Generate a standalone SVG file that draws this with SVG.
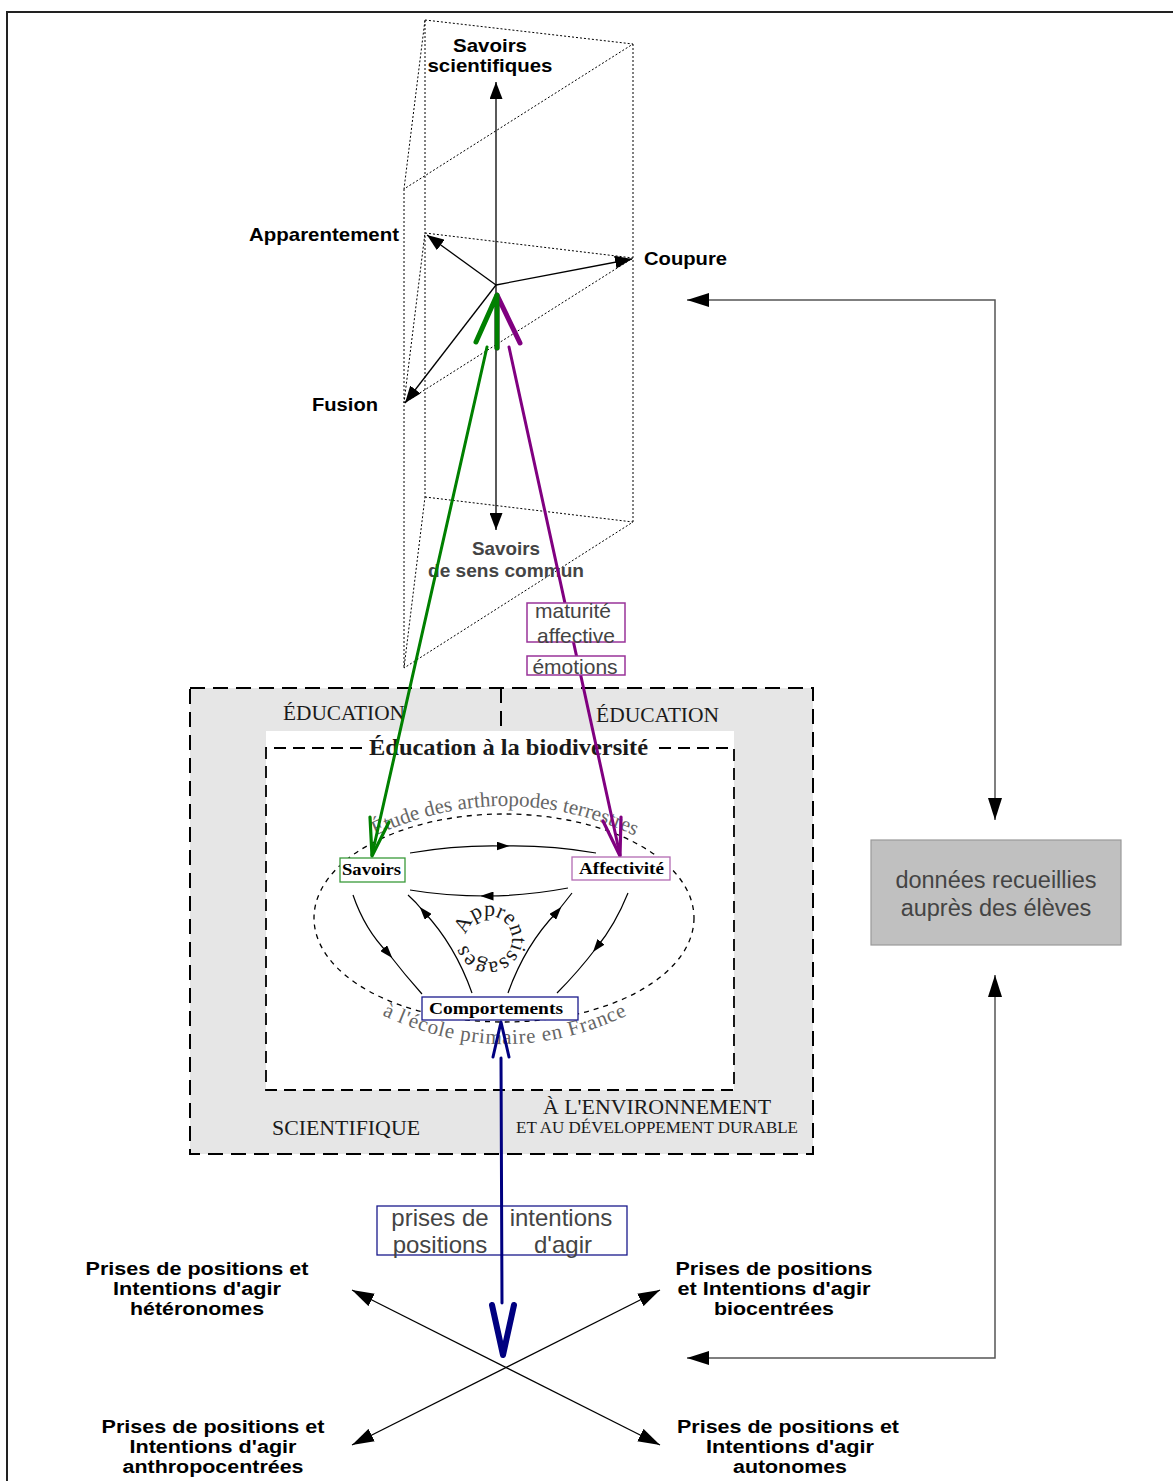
<svg xmlns="http://www.w3.org/2000/svg" width="1173" height="1481" viewBox="0 0 1173 1481">
  <style>
    .dot { fill: none; stroke: #000; stroke-width: 1; stroke-dasharray: 2 2; }
    .ax { fill: none; stroke: #000; stroke-width: 1.3; }
    .lnk { fill: none; stroke: #555; stroke-width: 1.5; }
    .lbl { font-family: "Liberation Sans", Arial, sans-serif; font-weight: bold; font-size: 19px; fill: #000; }
    .lblg { fill: #444; }
    .pos { font-family: "Liberation Sans", Arial, sans-serif; font-weight: bold; font-size: 18px; fill: #000; }
    .box { font-family: "Liberation Sans", Arial, sans-serif; fill: #444; }
    .ser { font-family: "Liberation Serif", "Times New Roman", serif; fill: #1a1a1a; }
    .curv { font-family: "Liberation Serif", "Times New Roman", serif; font-size: 21px; fill: #666; }
    .node { font-family: "Liberation Serif", "Times New Roman", serif; font-weight: bold; font-size: 17px; fill: #000; }
    .cyc { fill: none; stroke: #000; stroke-width: 1.2; }
    .dash { fill: none; stroke: #000; stroke-width: 2; stroke-dasharray: 15 8; }
  </style>
  <defs>
    <marker id="tipS" viewBox="0 0 17 13" refX="17" refY="6.5" markerWidth="17" markerHeight="13" markerUnits="userSpaceOnUse" orient="auto-start-reverse">
      <path d="M0,0 L17,6.5 L0,13 z" fill="#000"/>
    </marker>
    <marker id="tipL" viewBox="0 0 22 14" refX="22" refY="7" markerWidth="22" markerHeight="14" markerUnits="userSpaceOnUse" orient="auto-start-reverse">
      <path d="M0,0 L22,7 L0,14 z" fill="#000"/>
    </marker>
    <marker id="tipM" viewBox="0 0 13 9" refX="6.5" refY="4.5" markerWidth="13" markerHeight="9" markerUnits="userSpaceOnUse" orient="auto">
      <path d="M0,0 L13,4.5 L0,9 z" fill="#000"/>
    </marker>
    <path id="arcTop" d="M366,840 Q505,772 644,840"/>
    <path id="arcBot" d="M376,1012 Q505,1076 634,1012"/>
    <path id="ring" d="M466.3,935 A23,23 0 1 1 511.7,943 A23,23 0 1 1 466.3,935"/>
  </defs>

  <!-- page frame -->
  <path d="M6,12 H1173 M7,12 V1481" fill="none" stroke="#222" stroke-width="2"/>

  <!-- prism of the three knowledge poles -->
  <g id="prism">
    <path class="dot" d="M425,20 L633,44 L404,189 Z"/>
    <path class="dot" d="M425,233 L633,258 L404,403 Z"/>
    <path class="dot" d="M425,497 L633,522 L404,668 Z"/>
    <path class="dot" d="M425,20 V497 M633,44 V522 M404,189 V668"/>
  </g>

  <g id="prism-axes">
    <line class="ax" x1="496" y1="285" x2="496" y2="82" marker-end="url(#tipS)"/>
    <line class="ax" x1="496" y1="285" x2="496" y2="530" marker-end="url(#tipS)"/>
    <line class="ax" x1="496" y1="285" x2="427" y2="235" marker-end="url(#tipS)"/>
    <line class="ax" x1="496" y1="285" x2="632" y2="259" marker-end="url(#tipS)"/>
    <line class="ax" x1="496" y1="285" x2="405" y2="403" marker-end="url(#tipS)"/>
  </g>

  <g id="pole-sci"><text class="lbl" text-anchor="middle"><tspan x="490" y="52" textLength="74" lengthAdjust="spacingAndGlyphs">Savoirs</tspan><tspan x="490" y="72" textLength="125" lengthAdjust="spacingAndGlyphs">scientifiques</tspan></text></g>
  <g id="pole-app"><text class="lbl" x="249" y="241" textLength="150" lengthAdjust="spacingAndGlyphs">Apparentement</text></g>
  <g id="pole-coup"><text class="lbl" x="644" y="265" textLength="83" lengthAdjust="spacingAndGlyphs">Coupure</text></g>
  <g id="pole-fus"><text class="lbl" x="312" y="411" textLength="66" lengthAdjust="spacingAndGlyphs">Fusion</text></g>
  <g id="pole-sens"><text class="lbl lblg" text-anchor="middle"><tspan x="506" y="555" textLength="68" lengthAdjust="spacingAndGlyphs">Savoirs</tspan><tspan x="506" y="577" textLength="156" lengthAdjust="spacingAndGlyphs">de sens commun</tspan></text></g>

  <!-- education fields -->
  <g id="fields">
    <rect x="190" y="688" width="623" height="466" fill="#e6e6e6"/>
    <rect class="dash" x="190" y="688" width="623" height="466"/>
    <line class="dash" x1="501" y1="688" x2="501" y2="730"/>
    <rect x="266" y="731" width="468" height="359" fill="#fff"/>
    <path d="M362,748 H266 V1090 H734 V748 H655" fill="none" stroke="#000" stroke-width="1.8" stroke-dasharray="12 7"/>
    <text class="ser" x="283" y="720" font-size="21" textLength="122" lengthAdjust="spacingAndGlyphs">ÉDUCATION</text>
    <text class="ser" x="596" y="722" font-size="21" textLength="123" lengthAdjust="spacingAndGlyphs">ÉDUCATION</text>
    <text class="ser" x="272" y="1135" font-size="21" textLength="148" lengthAdjust="spacingAndGlyphs">SCIENTIFIQUE</text>
    <text class="ser" x="543" y="1114" font-size="21" textLength="228" lengthAdjust="spacingAndGlyphs">À L'ENVIRONNEMENT</text>
    <text class="ser" x="516" y="1133" font-size="16.5" textLength="282" lengthAdjust="spacingAndGlyphs">ET AU DÉVELOPPEMENT DURABLE</text>
    <text class="ser" x="369" y="755" font-size="23" font-weight="bold" fill="#000" textLength="279" lengthAdjust="spacingAndGlyphs">Éducation à la biodiversité</text>
  </g>

  <!-- learning cycle -->
  <g id="cycle">
    <ellipse cx="504" cy="918" rx="190" ry="104" fill="none" stroke="#000" stroke-width="1.3" stroke-dasharray="5 5"/>
    <text class="curv"><textPath href="#arcTop" startOffset="50%" text-anchor="middle">Étude des arthropodes terrestres</textPath></text>
    <text class="curv" letter-spacing="0.8"><textPath href="#arcBot" startOffset="50%" text-anchor="middle">à l'école primaire en France</textPath></text>
    <text class="ser" font-size="22" fill="#000"><textPath href="#ring">Apprentissages</textPath></text>
    <path class="cyc" d="M410,853 Q456,845 503,846 Q550,845 596,853" marker-mid="url(#tipM)"/>
    <path class="cyc" d="M568,888 Q525,896 487,896 Q445,896 410,890" marker-mid="url(#tipM)"/>
    <path class="cyc" d="M353,895 Q365,930 388,953 Q405,975 422,994" marker-mid="url(#tipM)"/>
    <path class="cyc" d="M472,993 Q455,945 424,912 Q416,902 408,895" marker-mid="url(#tipM)"/>
    <path class="cyc" d="M508,993 Q525,945 557,912 Q565,902 572,893" marker-mid="url(#tipM)"/>
    <path class="cyc" d="M628,893 Q615,925 597,947 Q578,972 557,993" marker-mid="url(#tipM)"/>
  </g>

  <!-- links between the model and the collected data -->
  <g id="connectors">
    <path class="lnk" d="M687,300 H995 V820" marker-start="url(#tipL)" marker-end="url(#tipL)"/>
    <path class="lnk" d="M995,975 V1358 H687" marker-start="url(#tipL)" marker-end="url(#tipL)"/>
    <line x1="352" y1="1290" x2="660" y2="1445" stroke="#000" stroke-width="1.2" marker-start="url(#tipL)" marker-end="url(#tipL)"/>
    <line x1="660" y1="1290" x2="352" y2="1445" stroke="#000" stroke-width="1.2" marker-start="url(#tipL)" marker-end="url(#tipL)"/>

    <!-- affectivity -> prism -->
    <g stroke="#800080" fill="none" stroke-linecap="round" stroke-linejoin="round">
      <line x1="509" y1="347" x2="620" y2="855" stroke-width="3"/>
      <polyline points="603,821 620,856 621,817" stroke-width="3.2"/>
      <polyline points="520,343 497,295 497,348" stroke-width="5"/>
    </g>
    <!-- knowledge -> prism -->
    <g stroke="#008000" fill="none" stroke-linecap="round" stroke-linejoin="round">
      <line x1="487" y1="347" x2="372" y2="855" stroke-width="3"/>
      <polyline points="370,817 372,856 389,822" stroke-width="3.2"/>
      <polyline points="476,342 497,295 497,348" stroke-width="5"/>
    </g>
  </g>

  <g id="n-maturite">
    <rect x="527" y="603" width="98" height="39" fill="#fff" stroke="#993399" stroke-width="1.5"/>
    <text class="box" style="font-size:21px" text-anchor="middle"><tspan x="573" y="618">maturité</tspan><tspan x="576" y="643">affective</tspan></text>
  </g>
  <g id="n-emotions">
    <rect x="527" y="656" width="98" height="19" fill="#fff" stroke="#993399" stroke-width="1.5"/>
    <text class="box" style="font-size:21px" x="575" y="674" text-anchor="middle">émotions</text>
  </g>

  <g id="n-savoirs">
    <rect x="340" y="858" width="65" height="24" fill="#fff" stroke="#3a9a3a" stroke-width="1.3"/>
    <text class="node" x="342" y="875" textLength="59" lengthAdjust="spacingAndGlyphs">Savoirs</text>
  </g>
  <g id="n-affect">
    <rect x="572" y="857" width="98" height="23" fill="#fff" stroke="#b36bb3" stroke-width="1.3"/>
    <text class="node" x="579" y="874" textLength="85" lengthAdjust="spacingAndGlyphs">Affectivité</text>
  </g>
  <g id="n-comport">
    <rect x="422" y="997" width="156" height="23" fill="#fff" stroke="#1a1a8c" stroke-width="1.3"/>
    <text class="node" x="429" y="1014" textLength="134" lengthAdjust="spacingAndGlyphs">Comportements</text>
  </g>

  <g id="n-prises">
    <rect x="377" y="1206" width="250" height="49" fill="#fff" stroke="#1a1a8c" stroke-width="1.3"/>
    <text class="box" style="font-size:24px" text-anchor="middle"><tspan x="440" y="1226">prises de</tspan><tspan x="440" y="1253">positions</tspan></text>
    <text class="box" style="font-size:24px" text-anchor="middle"><tspan x="561" y="1226">intentions</tspan><tspan x="563" y="1253">d'agir</tspan></text>
  </g>

  <!-- behaviour -> positions -->
  <g id="behaviour-link" stroke="#000080" fill="none" stroke-linecap="round" stroke-linejoin="round">
    <line x1="501" y1="1058" x2="502" y2="1303" stroke-width="3"/>
    <polyline points="493,1057 501,1022 509,1057" stroke-width="3"/>
    <polyline points="492,1305 503,1355 514,1305" stroke-width="6"/>
  </g>

  <g id="n-donnees">
    <rect x="871" y="840" width="250" height="105" fill="#c0c0c0" stroke="#999" stroke-width="1.2"/>
    <text class="box" style="font-size:23.5px" text-anchor="middle"><tspan x="996" y="888">données recueillies</tspan><tspan x="996" y="916">auprès des élèves</tspan></text>
  </g>

  <g id="n-hetero"><text class="pos" text-anchor="middle"><tspan x="197" y="1275" textLength="223" lengthAdjust="spacingAndGlyphs">Prises de positions et</tspan><tspan x="197" y="1295" textLength="168" lengthAdjust="spacingAndGlyphs">Intentions d'agir</tspan><tspan x="197" y="1315" textLength="134" lengthAdjust="spacingAndGlyphs">hétéronomes</tspan></text></g>
  <g id="n-bio"><text class="pos" text-anchor="middle"><tspan x="774" y="1275" textLength="197" lengthAdjust="spacingAndGlyphs">Prises de positions</tspan><tspan x="774" y="1295" textLength="193" lengthAdjust="spacingAndGlyphs">et Intentions d'agir</tspan><tspan x="774" y="1315" textLength="120" lengthAdjust="spacingAndGlyphs">biocentrées</tspan></text></g>
  <g id="n-anthropo"><text class="pos" text-anchor="middle"><tspan x="213" y="1433" textLength="223" lengthAdjust="spacingAndGlyphs">Prises de positions et</tspan><tspan x="213" y="1453" textLength="167" lengthAdjust="spacingAndGlyphs">Intentions d'agir</tspan><tspan x="213" y="1473" textLength="181" lengthAdjust="spacingAndGlyphs">anthropocentrées</tspan></text></g>
  <g id="n-auto"><text class="pos" text-anchor="middle"><tspan x="788" y="1433" textLength="222" lengthAdjust="spacingAndGlyphs">Prises de positions et</tspan><tspan x="790" y="1453" textLength="168" lengthAdjust="spacingAndGlyphs">Intentions d'agir</tspan><tspan x="790" y="1473" textLength="114" lengthAdjust="spacingAndGlyphs">autonomes</tspan></text></g>
</svg>
